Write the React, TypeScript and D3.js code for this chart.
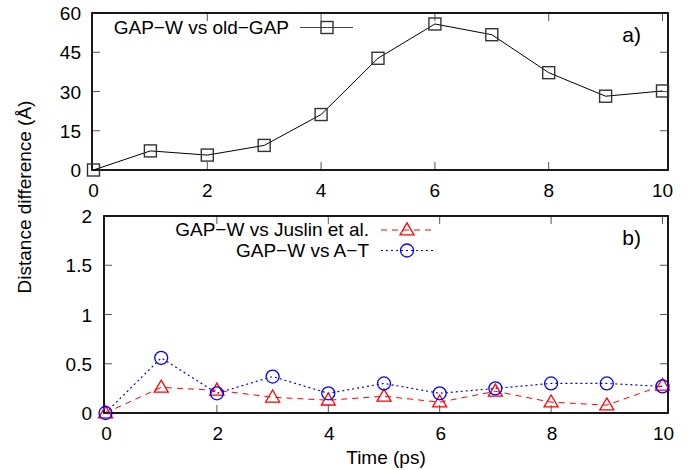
import React from "react";
import * as d3 from "d3";

const times = [0, 1, 2, 3, 4, 5, 6, 7, 8, 9, 10];
const oldGap = [0, 7.3, 5.7, 9.4, 21.2, 42.7, 55.8, 51.7, 37.2, 28.2, 30.2];
const juslin = [0, 0.26, 0.23, 0.16, 0.13, 0.17, 0.11, 0.22, 0.11, 0.08, 0.28];
const at = [0, 0.56, 0.2, 0.37, 0.2, 0.3, 0.2, 0.25, 0.3, 0.3, 0.27];
const xTicks = [0, 2, 4, 6, 8, 10];
const yTicksA = [0, 15, 30, 45, 60];
const yTicksB = [0, 0.5, 1, 1.5, 2];
const yTickLabelsB = ["0", "0.5", "1", "1.5", "2"];

const FONT = "'Liberation Sans', Arial, sans-serif";
const FS = 19;
const TL = 8;

function Frame({ x0, x1, y0, y1 }: { x0: number; x1: number; y0: number; y1: number }) {
  return <rect x={x0} y={y0} width={x1 - x0} height={y1 - y0} fill="none" stroke="#000" strokeWidth={1.8} />;
}

export default function App() {
  // Panel a
  const axL = 92, axR = 668, ayT = 13, ayB = 170;
  const xa = d3.scaleLinear().domain([0, 10]).range([93.5, 662.5]);
  const ya = d3.scaleLinear().domain([0, 60]).range([ayB, ayT]);
  // Panel b
  const bxL = 104, bxR = 668, byT = 216, byB = 413;
  const xb = d3.scaleLinear().domain([0, 10]).range([105.5, 662.5]);
  const yb = d3.scaleLinear().domain([0, 2]).range([byB, byT]);

  const lineA = d3.line<number>().x((_, i) => xa(times[i])).y((d) => ya(d));
  const lineJ = d3.line<number>().x((_, i) => xb(times[i])).y((d) => yb(d));

  const sq = 12;
  const tri = (cx: number, cy: number) => {
    const h = 12, w = 14;
    return `M${cx},${cy - h * 0.6} L${cx + w / 2},${cy + h * 0.4} L${cx - w / 2},${cy + h * 0.4} Z`;
  };

  return (
    <svg width={698} height={470} style={{ position: "absolute", left: 0, top: 0, background: "#fff" }} fontFamily={FONT}>
      <rect width={698} height={470} fill="#fff" />
      {/* Panel a ticks */}
      {xTicks.map((t) => (
        <g key={"xa" + t}>
          {t !== 0 && t !== 10 && <line x1={xa(t)} x2={xa(t)} y1={ayB} y2={ayB - TL} stroke="#555" />}
          {t !== 0 && <line x1={xa(t)} x2={xa(t)} y1={ayT} y2={ayT + TL} stroke="#555" />}
          <text x={xa(t)} y={197} fontSize={FS} textAnchor="middle">{t}</text>
        </g>
      ))}
      {yTicksA.map((t) => (
        <g key={"ya" + t}>
          {t !== 0 && t !== 60 && <line x1={axL} x2={axL + TL} y1={ya(t)} y2={ya(t)} stroke="#555" />}
          {t !== 0 && t !== 60 && <line x1={axR} x2={axR - TL} y1={ya(t)} y2={ya(t)} stroke="#555" />}
          <text x={81} y={ya(t) + 7} fontSize={FS} textAnchor="end">{t}</text>
        </g>
      ))}
      <Frame x0={axL} x1={axR} y0={ayT} y1={ayB} />
      <path d={lineA(oldGap) || ""} fill="none" stroke="#000" strokeWidth={1} />
      {oldGap.map((v, i) => (
        <rect key={"s" + i} x={xa(times[i]) - sq / 2} y={ya(v) - sq / 2} width={sq} height={sq} fill="none" stroke="#333" strokeWidth={1.4} />
      ))}
      {/* legend a */}
      <text x={289} y={34} fontSize={FS} textAnchor="end">GAP−W vs old−GAP</text>
      <line x1={300} x2={353} y1={27.5} y2={27.5} stroke="#444" strokeWidth={1} />
      <rect x={327 - sq / 2} y={27.5 - sq / 2} width={sq} height={sq} fill="none" stroke="#333" strokeWidth={1.4} />
      <text x={641} y={42} fontSize={21} textAnchor="end">a)</text>

      {/* Panel b ticks */}
      {xTicks.map((t) => (
        <g key={"xb" + t}>
          {t !== 0 && t !== 10 && <line x1={xb(t)} x2={xb(t)} y1={byB} y2={byB - TL} stroke="#555" />}
          {t !== 0 && <line x1={xb(t)} x2={xb(t)} y1={byT} y2={byT + TL} stroke="#555" />}
          <text x={xb(t) + 1} y={440} fontSize={FS} textAnchor="middle">{t}</text>
        </g>
      ))}
      {yTicksB.map((t, i) => (
        <g key={"yb" + t}>
          {t !== 0 && t !== 2 && <line x1={bxL} x2={bxL + TL} y1={yb(t)} y2={yb(t)} stroke="#555" />}
          {t !== 0 && t !== 2 && <line x1={bxR} x2={bxR - TL} y1={yb(t)} y2={yb(t)} stroke="#555" />}
          <text x={92} y={yb(t) + 7} fontSize={FS} textAnchor="end">{yTickLabelsB[i]}</text>
        </g>
      ))}
      <Frame x0={bxL} x1={bxR} y0={byT} y1={byB} />
      <path d={lineJ(juslin) || ""} fill="none" stroke="#ff0000" strokeWidth={1} strokeDasharray="6,5" />
      <path d={lineJ(at) || ""} fill="none" stroke="#0000ff" strokeWidth={1.2} strokeDasharray="2,3" />
      {juslin.map((v, i) => (
        <path key={"t" + i} d={tri(xb(times[i]), yb(v))} fill="none" stroke="#ff0000" strokeWidth={1.3} />
      ))}
      {at.map((v, i) => (
        <circle key={"c" + i} cx={xb(times[i])} cy={yb(v)} r={6.5} fill="none" stroke="#0000ff" strokeWidth={1.3} />
      ))}
      {/* legend b */}
      <text x={369} y={236} fontSize={FS} textAnchor="end">GAP−W vs Juslin et al.</text>
      <line x1={381} x2={433} y1={230} y2={230} stroke="#ff0000" strokeWidth={1} strokeDasharray="6,5" />
      <path d={tri(407, 230)} fill="none" stroke="#ff0000" strokeWidth={1.3} />
      <text x={369} y={257} fontSize={FS} textAnchor="end">GAP−W vs A−T</text>
      <line x1={381} x2={433} y1={250.5} y2={250.5} stroke="#0000ff" strokeWidth={1.2} strokeDasharray="2,3" />
      <circle cx={407} cy={250.5} r={6.5} fill="none" stroke="#0000ff" strokeWidth={1.3} />
      <text x={641} y={245} fontSize={21} textAnchor="end">b)</text>

      {/* axis labels */}
      <text transform="translate(31,197) rotate(-90)" fontSize={FS} textAnchor="middle">Distance difference (Å)</text>
      <text x={386} y={464} fontSize={FS} textAnchor="middle">Time (ps)</text>
    </svg>
  );
}
